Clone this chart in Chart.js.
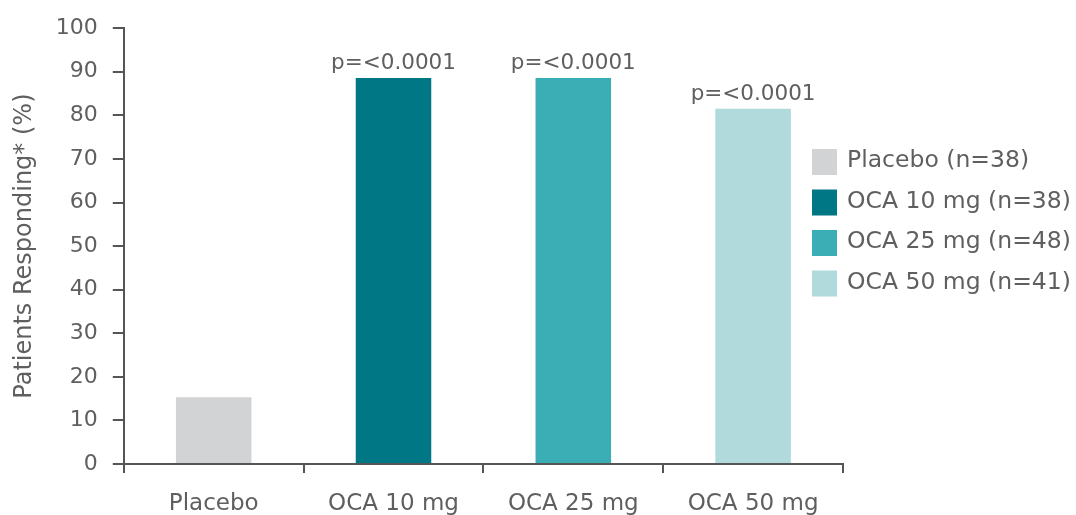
<!DOCTYPE html>
<html>
<head>
<meta charset="utf-8">
<script src="https://cdn.jsdelivr.net/npm/chart.js@4.4.1/dist/chart.umd.min.js"></script>
<style>
  html, body { margin: 0; padding: 0; background: #fff; }
  #wrap { width: 1076px; height: 515px; position: relative; }
</style>
</head>
<body>
<div id="wrap"><canvas id="chart"></canvas></div>
<script>
// data
var categories = ["Placebo", "OCA 10 mg", "OCA 25 mg", "OCA 50 mg"];
var legendLabels = ["Placebo (n=38)", "OCA 10 mg (n=38)", "OCA 25 mg (n=48)", "OCA 50 mg (n=41)"];
var responding = [15.3, 88.6, 88.6, 81.5];
var pValues = ["", "p=<0.0001", "p=<0.0001", "p=<0.0001"];
var barColors = ["#d1d3d4", "#007785", "#3aaeb4", "#b0dadc"];

var fontFamily = "'DejaVu Sans', sans-serif";
var textColor = "#5f5f5f";
var axisColor = "#555555";

// p-value labels above bars
var pLabels = {
  id: "pLabels",
  afterDatasetsDraw: function(chart) {
    var ctx = chart.ctx;
    var meta = chart.getDatasetMeta(0);
    ctx.save();
    ctx.font = "21.5px " + fontFamily;
    ctx.fillStyle = textColor;
    ctx.textAlign = "center";
    ctx.textBaseline = "alphabetic";
    meta.data.forEach(function(bar, i) {
      if (pValues[i]) ctx.fillText(pValues[i], bar.x, bar.y - 9);
    });
    ctx.restore();
  }
};

// legend on the right
var sideLegend = {
  id: "sideLegend",
  afterDraw: function(chart) {
    var ctx = chart.ctx;
    ctx.save();
    ctx.font = "23.5px " + fontFamily;
    ctx.textBaseline = "middle";
    ctx.textAlign = "left";
    legendLabels.forEach(function(lbl, i) {
      var y = 149 + i * 40.5;
      ctx.fillStyle = barColors[i];
      ctx.fillRect(812, y, 25, 26);
      ctx.fillStyle = textColor;
      ctx.fillText(lbl, 847, y + 12);
    });
    ctx.restore();
  }
};

var ctx = document.getElementById("chart").getContext("2d");
new Chart(ctx, {
  type: "bar",
  data: {
    labels: categories,
    datasets: [{
      label: "Patients Responding",
      data: responding,
      backgroundColor: barColors,
      borderWidth: 0,
      barPercentage: 0.42,
      categoryPercentage: 1.0
    }]
  },
  options: {
    responsive: true,
    maintainAspectRatio: false,
    animation: false,
    layout: {
      padding: { top: 10, right: 233, left: 10, bottom: 0 }
    },
    plugins: {
      legend: { display: false },
      tooltip: { enabled: false }
    },
    scales: {
      x: {
        afterFit: function(scale) { scale.height = 51; },
        grid: {
          display: true,
          offset: true,
          drawOnChartArea: false,
          drawTicks: true,
          tickLength: 9,
          color: axisColor,
          lineWidth: 2
        },
        border: { display: true, color: axisColor, width: 2 },
        ticks: {
          color: textColor,
          padding: 17,
          font: { size: 23, family: fontFamily }
        }
      },
      y: {
        min: 0,
        max: 100,
        grid: {
          display: true,
          drawOnChartArea: false,
          drawTicks: true,
          tickLength: 11,
          color: axisColor,
          lineWidth: 2
        },
        border: { display: true, color: axisColor, width: 2 },
        ticks: {
          stepSize: 10,
          color: textColor,
          padding: 15,
          font: { size: 22, family: fontFamily }
        },
        title: {
          display: true,
          text: "Patients Responding* (%)",
          color: textColor,
          padding: { top: 0, bottom: 2 },
          font: { size: 24, family: fontFamily }
        }
      }
    }
  },
  plugins: [pLabels, sideLegend]
});
</script>
</body>
</html>
